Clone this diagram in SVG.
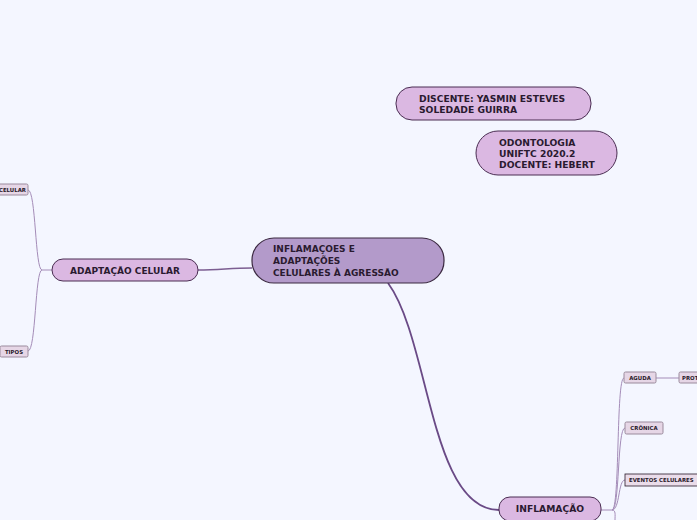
<svg xmlns="http://www.w3.org/2000/svg" width="697" height="520" viewBox="0 0 697 520">
<style>
.t{font-family:"DejaVu Sans",Verdana,sans-serif;font-weight:bold;fill:#2a1a30}
.main{fill:#b39aca;stroke:#3a2840;stroke-width:1.2}
.sub{fill:#dbb8e2;stroke:#4a2d52;stroke-width:1}
.sm{fill:#e6d6e6;stroke:#9a8a9c;stroke-width:1}
.st{font-family:"DejaVu Sans",Verdana,sans-serif;font-weight:bold;font-size:5.4px;fill:#2a1a2a}
.c{fill:none;stroke:#a48cb8;stroke-width:1}
</style>
<rect width="697" height="520" fill="#f4f6ff"/>
<g id="connectors">
<path d="M252,268 C230,268 220,270 198,270" fill="none" stroke="#7c5e92" stroke-width="1.3"/>
<path d="M388,283 C430,340 430,510 499,510" fill="none" stroke="#6a4a86" stroke-width="1.8"/>
<path class="c" d="M52,270 L42,270 C35,270 36,190 28,190"/>
<path class="c" d="M42,270 C35,270 36,351 28,351"/>
<path class="c" d="M601,510 L612,510 C620,510 616,378 624,378"/>
<path class="c" d="M612,510 C620,510 617,428 625,428"/>
<path class="c" d="M612,510 C620,510 618,480 625,480"/>
<path class="c" d="M612,510 C616,510 615,515 615,520"/>
<path class="c" d="M656,378 L679,378"/>
</g>
<g id="central">
<rect class="main" x="252" y="238" width="192" height="45" rx="22"/>
<text class="t" font-size="9"><tspan x="273" y="252">INFLAMAÇOES E</tspan><tspan x="273" y="264">ADAPTAÇÕES</tspan><tspan x="273" y="276">CELULARES À AGRESSÃO</tspan></text>
</g>
<g id="discente">
<rect class="sub" x="396" y="87" width="195" height="33" rx="16"/>
<text class="t" font-size="9.2"><tspan x="419" y="102">DISCENTE: YASMIN ESTEVES</tspan><tspan x="419" y="113">SOLEDADE GUIRRA</tspan></text>
</g>
<g id="odontologia">
<rect class="sub" x="476" y="131" width="141" height="44" rx="22"/>
<text class="t" font-size="9.2"><tspan x="499" y="146">ODONTOLOGIA</tspan><tspan x="499" y="157">UNIFTC 2020.2</tspan><tspan x="499" y="168">DOCENTE: HEBERT</tspan></text>
</g>
<g id="adaptacao">
<rect class="sub" x="52" y="259" width="146" height="22" rx="11"/>
<text class="t" font-size="9" x="125" y="274" text-anchor="middle">ADAPTAÇÃO CELULAR</text>
</g>
<g id="inflamacao">
<rect class="sub" x="499" y="497" width="102" height="24" rx="11"/>
<text class="t" font-size="9.2" x="550" y="512" text-anchor="middle">INFLAMAÇÃO</text>
</g>
<g id="celular">
<rect class="sm" x="-10" y="184" width="38" height="11" rx="1.5"/>
<text class="st" x="26" y="191.5" text-anchor="end">CELULAR</text>
</g>
<g id="tipos">
<rect class="sm" x="0" y="346" width="28" height="11" rx="1.5"/>
<text class="st" x="14" y="353.5" text-anchor="middle">TIPOS</text>
</g>
<g id="aguda">
<rect class="sm" x="624" y="372" width="32" height="11" rx="1.5"/>
<text class="st" x="640" y="379.5" text-anchor="middle">AGUDA</text>
</g>
<g id="prot">
<rect class="sm" x="679" y="372" width="30" height="11" rx="1.5"/>
<text class="st" x="682" y="379.5">PROT</text>
</g>
<g id="cronica">
<rect class="sm" x="625" y="422" width="38" height="12" rx="1.5"/>
<text class="st" x="644" y="430" text-anchor="middle">CRÔNICA</text>
</g>
<g id="eventos">
<rect x="625" y="474" width="74" height="12" fill="#eadcea" stroke="#2a1a2a" stroke-width="0.8"/>
<text class="st" x="629" y="482">EVENTOS CELULARES</text>
</g>
</svg>
